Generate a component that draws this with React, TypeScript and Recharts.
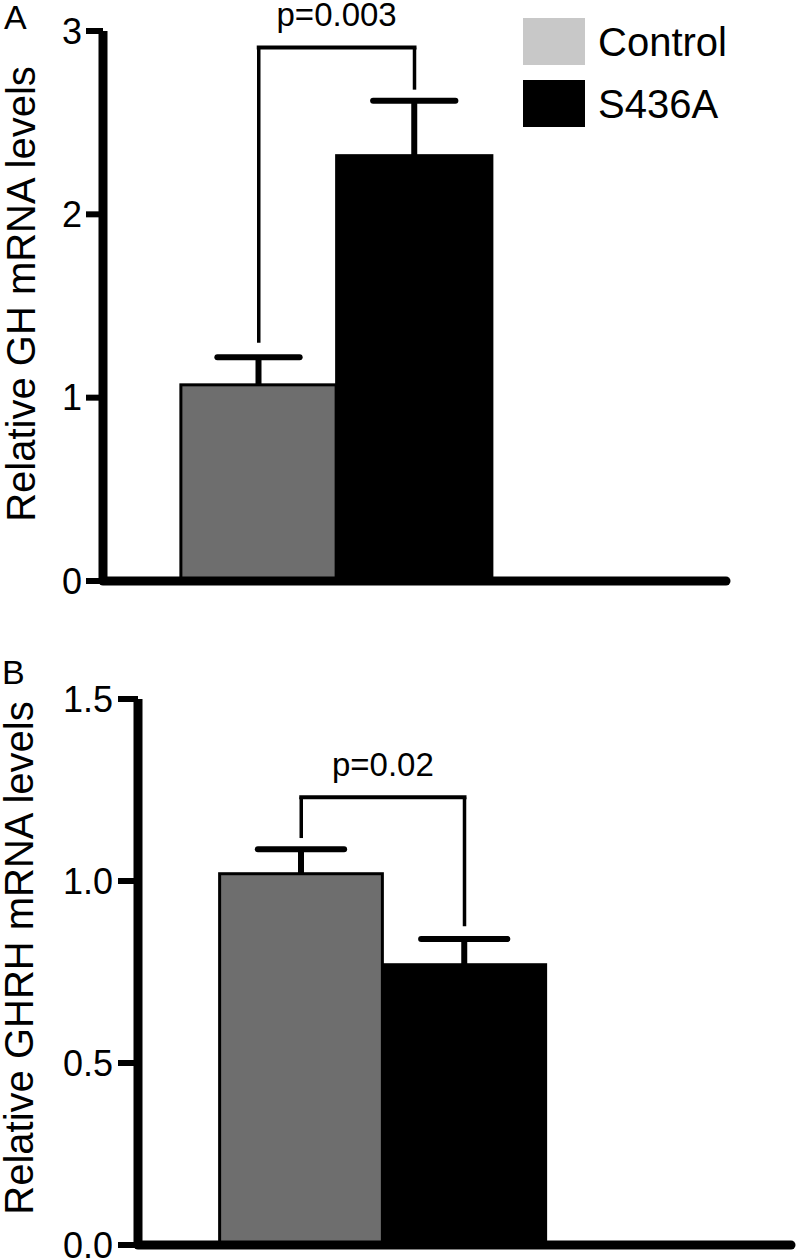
import React from 'react';
import { BarChart, Bar, XAxis, YAxis, ReferenceLine, Legend } from 'recharts';

const FONT = '"Liberation Sans", Arial, Helvetica, sans-serif';

// ---- data ----
const CATEGORIES = ['Control', 'S436A'];
const X_POS = [2, 4];
const BAR_COLORS = ['#6e6e6e', '#000000'];
const LEGEND_COLORS = ['#c8c8c8', '#000000'];

const GH_MEAN = [1.07, 2.32];
const GH_SEM = [0.15, 0.3];
const GH_TICKS = [0, 1, 2, 3];
const GH_BRACKET = { top: 2.91, left: 1.3, right: 2.68, label: 'p=0.003' };

const GHRH_MEAN = [1.02, 0.77];
const GHRH_SEM = [0.067, 0.071];
const GHRH_TICKS = [0, 0.5, 1.0, 1.5];
const GHRH_BRACKET = { top: 1.23, left: 1.118, right: 0.876, label: 'p=0.02' };

const X_DOMAIN = [0, 8];

const buildRows = (means: number[], sems: number[]) =>
  CATEGORIES.map((c, i) => ({ name: c, x: X_POS[i], mean: means[i], sem: sems[i] }));

const ghRows = buildRows(GH_MEAN, GH_SEM);
const ghrhRows = buildRows(GHRH_MEAN, GHRH_SEM);

// bar shape with error bar computed from the bar's own scale
const BarWithError = (props: any) => {
  const { x, y, width, height, payload, index } = props;
  const mean = payload.mean;
  const ppu = mean !== 0 ? height / mean : 0;
  const yTop = y - payload.sem * ppu;
  const cx = x + width / 2;
  const capW = width * 0.53;
  return (
    <g>
      <rect x={x} y={y} width={width} height={height} fill={BAR_COLORS[index]} stroke="#000" strokeWidth={3} />
      <line x1={cx} y1={y} x2={cx} y2={yTop} stroke="#000" strokeWidth={6} />
      <line x1={cx - capW / 2} y1={yTop} x2={cx + capW / 2} y2={yTop} stroke="#000" strokeWidth={6} strokeLinecap="round" />
    </g>
  );
};

const YLabel = (props: any) => {
  const { viewBox, text, baseX, dy } = props;
  const cy = viewBox.y + viewBox.height / 2 + dy;
  return (
    <text
      x={baseX}
      y={cy}
      transform={`rotate(-90 ${baseX} ${cy})`}
      textAnchor="middle"
      style={{ fontSize: 40, fontFamily: FONT }}
      fill="#000"
    >
      {text}
    </text>
  );
};

const renderLegend = () => (
  <svg width={220} height={120} style={{ display: 'block' }}>
    {CATEGORIES.map((c, i) => (
      <g key={c}>
        <rect x={0} y={i * 62} width={62} height={47} fill={LEGEND_COLORS[i]} />
        <text x={75} y={i * 62 + 23.5 + 14.5} style={{ fontSize: 40, fontFamily: FONT }} fill="#000">
          {c}
        </text>
      </g>
    ))}
  </svg>
);

const Bracket = (b: any, fontSize: number, offset: number) => [
  <ReferenceLine
    key="l"
    segment={[{ x: X_POS[0], y: b.left }, { x: X_POS[0], y: b.top }]}
    stroke="#000"
    strokeWidth={3.5}
    ifOverflow="visible"
  />,
  <ReferenceLine
    key="r"
    segment={[{ x: X_POS[1], y: b.right }, { x: X_POS[1], y: b.top }]}
    stroke="#000"
    strokeWidth={3.5}
    ifOverflow="visible"
  />,
  <ReferenceLine
    key="t"
    segment={[{ x: X_POS[0], y: b.top }, { x: X_POS[1], y: b.top }]}
    stroke="#000"
    strokeWidth={4}
    strokeLinecap="square"
    ifOverflow="visible"
    label={{ value: b.label, position: 'top', offset, fontSize, fill: '#000', fontFamily: FONT }}
  />,
];

const A_W = 800;
const A_H = 620;
const A_MARGIN = { top: 31, right: 74, bottom: 19, left: 0 };
const A_YW = 103;
// band = two x units; bar slightly narrower than band so Recharts keeps the explicit size
const A_BAR = ((A_W - A_YW - A_MARGIN.right) / (X_DOMAIN[1] - X_DOMAIN[0])) * 2 - 0.5;

const B_W = 800;
const B_H = 619;
const B_MARGIN = { top: 59, right: 9, bottom: 4, left: 0 };
const B_YW = 138;
const B_BAR = ((B_W - B_YW - B_MARGIN.right) / (X_DOMAIN[1] - X_DOMAIN[0])) * 2 - 0.5;

export default function App() {
  return (
    <div style={{ position: 'absolute', left: 0, top: 0, width: 800, height: 1259, background: '#fff', fontFamily: FONT }}>
      <div style={{ position: 'absolute', left: 0, top: 0 }}>
        <BarChart width={A_W} height={A_H} data={ghRows} margin={A_MARGIN} barCategoryGap={0} barGap={0}>
          <Bar dataKey="mean" barSize={A_BAR} shape={<BarWithError />} isAnimationActive={false} />
          <XAxis
            type="number"
            dataKey="x"
            domain={X_DOMAIN}
            tick={false}
            tickLine={false}
            height={20}
            axisLine={{ stroke: '#000', strokeWidth: 9, strokeLinecap: 'round' }}
          />
          <YAxis
            type="number"
            domain={[0, 3]}
            ticks={GH_TICKS}
            interval={0}
            width={A_YW}
            tickSize={17}
            tickMargin={4}
            tick={{ fontSize: 36, fill: '#000', fontFamily: FONT }}
            tickLine={{ stroke: '#000', strokeWidth: 6 }}
            axisLine={{ stroke: '#000', strokeWidth: 9 }}
            label={<YLabel text="Relative GH mRNA levels" baseX={35} dy={-12} />}
          />
          {Bracket(GH_BRACKET, 33, 22)}
          <Legend
            layout="vertical"
            align="center"
            verticalAlign="middle"
            content={renderLegend}
            wrapperStyle={{ left: 523, top: 18, width: 220, height: 120 }}
          />
        </BarChart>
      </div>
      <div style={{ position: 'absolute', left: 0, top: 640 }}>
        <BarChart width={B_W} height={B_H} data={ghrhRows} margin={B_MARGIN} barCategoryGap={0} barGap={0}>
          <Bar dataKey="mean" barSize={B_BAR} shape={<BarWithError />} isAnimationActive={false} />
          <XAxis
            type="number"
            dataKey="x"
            domain={X_DOMAIN}
            tick={false}
            tickLine={false}
            height={10}
            axisLine={{ stroke: '#000', strokeWidth: 9, strokeLinecap: 'round' }}
          />
          <YAxis
            type="number"
            domain={[0, 1.5]}
            ticks={GHRH_TICKS}
            interval={0}
            width={B_YW}
            tickSize={20}
            tickMargin={5}
            tickFormatter={(v: number) => v.toFixed(1)}
            tick={{ fontSize: 36, fill: '#000', fontFamily: FONT }}
            tickLine={{ stroke: '#000', strokeWidth: 6 }}
            axisLine={{ stroke: '#000', strokeWidth: 9 }}
            label={<YLabel text="Relative GHRH mRNA levels" baseX={33} dy={-14} />}
          />
          {Bracket(GHRH_BRACKET, 33, 21)}
        </BarChart>
      </div>
      <svg width={800} height={1259} style={{ position: 'absolute', left: 0, top: 0, pointerEvents: 'none' }}>
        <text x={4} y={29} fontSize={34} style={{ fontSize: '34px', fontFamily: FONT }} fill="#000">A</text>
        <text x={2} y={684} fontSize={34} style={{ fontSize: '34px', fontFamily: FONT }} fill="#000">B</text>
      </svg>
    </div>
  );
}
